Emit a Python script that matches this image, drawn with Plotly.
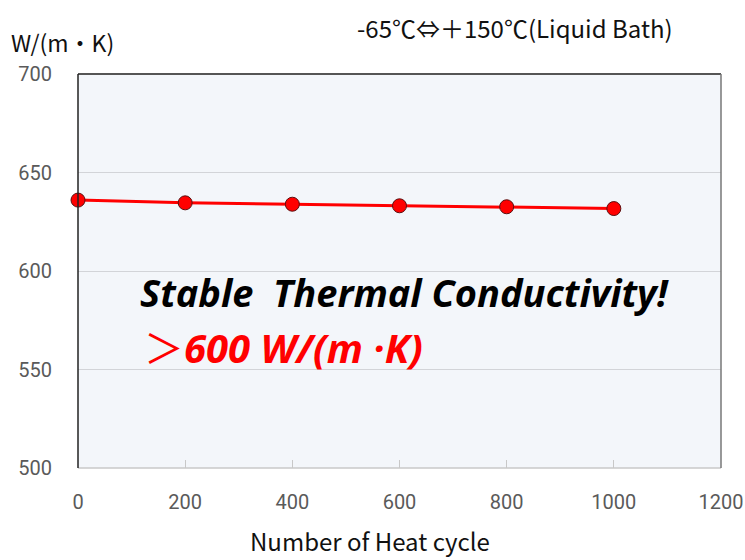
import plotly.graph_objects as go

cycles = [0, 200, 400, 600, 800, 1000]
conductivity = [636.0, 634.6, 633.9, 633.1, 632.6, 631.7]
x_ticks = [0, 200, 400, 600, 800, 1000, 1200]
y_ticks = [500, 550, 600, 650, 700]

tick_font = dict(family="Roboto, Liberation Sans", size=20, color="#5a5a5a")
cjk = "Noto Sans CJK JP, Noto Sans, Liberation Sans"

fig = go.Figure()
fig.add_trace(go.Scatter(
    x=cycles, y=conductivity, mode="lines+markers",
    line=dict(color="#ff0000", width=3),
    marker=dict(size=14, color="#ff0000", line=dict(color="#5a1010", width=1)),
    cliponaxis=False, showlegend=False,
))

fig.update_layout(
    width=745, height=560,
    margin=dict(l=78, r=24, t=74, b=92),
    paper_bgcolor="white",
    plot_bgcolor="#f3f6fa",
    xaxis=dict(range=[0, 1200], tickvals=x_ticks, ticks="inside", ticklen=8,
               tickcolor="#c8c8c8", showgrid=False, zeroline=False,
               tickfont=tick_font, ticklabelstandoff=20, automargin=False,
               showline=False),
    yaxis=dict(range=[500, 700], tickvals=y_ticks, showgrid=True, gridcolor="#d2d4d8",
               gridwidth=1, zeroline=False, tickfont=tick_font, ticks="",
               ticklabelstandoff=25, showline=False, automargin=False),
    shapes=[
        dict(type="line", xref="paper", yref="paper", x0=0, x1=1, y0=0, y1=0,
             line=dict(color="#c8c8c8", width=1.5)),
        dict(type="line", xref="paper", yref="paper", x0=0, x1=1, y0=1, y1=1,
             line=dict(color="#555555", width=2)),
        dict(type="line", xref="paper", yref="paper", x0=1, x1=1, y0=0, y1=1,
             line=dict(color="#777777", width=1.5)),
        dict(type="line", xref="paper", yref="paper", x0=0, x1=0, y0=0, y1=1,
             line=dict(color="#222222", width=1.5)),
    ],
    annotations=[
        dict(text="Number of Heat cycle", xref="paper", yref="paper", x=0.454, y=-0.185,
             xanchor="center", yanchor="middle", showarrow=False,
             font=dict(family=cjk, size=24, color="#111")),
        dict(text="W/(m・K)", xref="paper", yref="paper", x=-0.107, y=1.081,
             xanchor="left", yanchor="middle", showarrow=False,
             font=dict(family=cjk, size=23, color="#111")),
        dict(text="-65℃⇔＋150℃(Liquid Bath)", xref="paper", yref="paper", x=0.431, y=1.118,
             xanchor="left", yanchor="middle", showarrow=False,
             font=dict(family=cjk, size=24, color="#111")),
        dict(text="<b><i>Stable  Thermal Conductivity!</i></b>", xref="paper", yref="paper",
             x=0.094, y=0.447, xanchor="left", yanchor="middle", showarrow=False,
             font=dict(family="Open Sans, Lato, Liberation Sans", size=38, color="#000")),
        dict(text="<span style=\"font-family:'Noto Sans CJK JP'\">＞</span><b><i>600 W/(m ·K)</i></b>",
             xref="paper", yref="paper",
             x=0.1, y=0.31, xanchor="left", yanchor="middle", showarrow=False,
             font=dict(family="Open Sans, Lato, Liberation Sans", size=40, color="#ff0000")),
    ],
)

fig.write_html("out.html", config={"displayModeBar": False},
               post_script="document.body.style.margin='0';")
